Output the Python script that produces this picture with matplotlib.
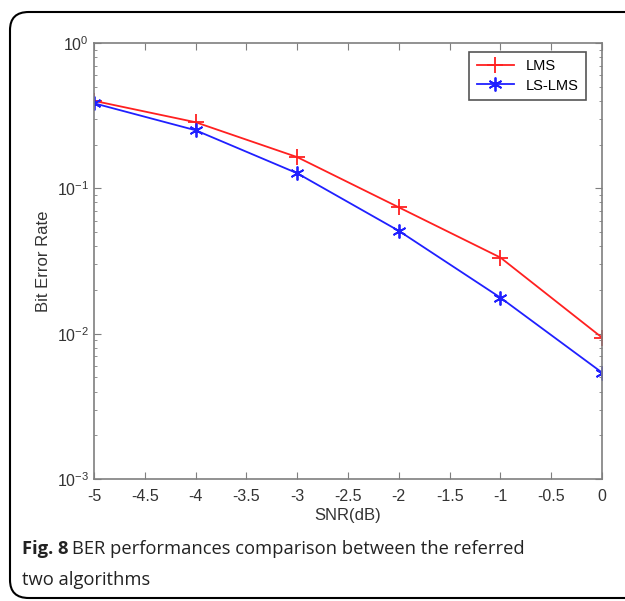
import matplotlib
matplotlib.use("Agg")
import matplotlib.pyplot as plt
from matplotlib.patches import FancyBboxPatch
from matplotlib.ticker import LogLocator, NullFormatter

snr = [-5, -4, -3, -2, -1, 0]
lms = [0.40, 0.285, 0.164, 0.074, 0.0334, 0.0094]
lslms = [0.385, 0.251, 0.127, 0.051, 0.0177, 0.0054]
xticks = [-5, -4.5, -4, -3.5, -3, -2.5, -2, -1.5, -1, -0.5, 0]
xticklabels = ["-5", "-4.5", "-4", "-3.5", "-3", "-2.5", "-2", "-1.5", "-1", "-0.5", "0"]

plt.rcParams['font.family'] = ['Liberation Sans', 'DejaVu Sans']
plt.rcParams['axes.unicode_minus'] = False
plt.rcParams['mathtext.fontset'] = 'custom'
plt.rcParams['mathtext.rm'] = 'Liberation Sans'

fig = plt.figure(figsize=(6.25, 6.01), dpi=100)
ax = fig.add_axes([94/625, 1-479/601, (602-94)/625, (479-43)/601])

ax.plot(snr, lms, color='#ff2020', marker='+', markersize=11, markeredgewidth=1.3, linewidth=1.3, label='LMS')
ax.plot(snr, lslms, color='#2020ff', marker=(6, 2, 0), markersize=10, markeredgewidth=1.3, linewidth=1.3, label='LS-LMS')

ax.set_yscale('log')
ax.set_ylim(1e-3, 1)
ax.set_xlim(-5, 0)
ax.set_xticks(xticks)
ax.set_xticklabels(xticklabels)
ax.yaxis.set_major_locator(LogLocator(base=10, numticks=10))
ax.yaxis.set_minor_locator(LogLocator(base=10, subs=range(2, 10), numticks=20))
ax.yaxis.set_minor_formatter(NullFormatter())

gray = '#7f7f7f'
for s in ax.spines.values():
    s.set_color(gray)
    s.set_linewidth(1.2)
ax.tick_params(which='both', direction='in', top=True, right=True, colors=gray, labelcolor='#333333', labelsize=11.5)
ax.tick_params(which='major', length=5)
ax.tick_params(which='minor', length=2.5)
ax.tick_params(axis='x', pad=7)

ax.set_xlabel('SNR(dB)', fontsize=12, color='#333333', labelpad=3)
ax.set_ylabel('Bit Error Rate', fontsize=12, color='#333333', labelpad=4)

leg = ax.legend(loc='upper right', bbox_to_anchor=(0.969, 0.979), borderaxespad=0, fontsize=10.5,
                fancybox=False, edgecolor='#555555', framealpha=1, handlelength=2.6, borderpad=0.5,
                labelspacing=0.35)
leg.get_frame().set_linewidth(1.2)

frame = FancyBboxPatch((10/625, 1-598/601), 1.2, (598-12)/601, transform=fig.transFigure,
                       boxstyle='round,pad=0,rounding_size=0.03', fill=False,
                       edgecolor='black', linewidth=1.5, clip_on=False)
fig.patches.append(frame)

cap_font = ['Open Sans', 'DejaVu Sans']
t1 = fig.text(22/625, 1-549/601, 'Fig. 8', fontsize=13.2, fontweight='bold', va='center', ha='left',
              color='#222222', family=cap_font)
fig.canvas.draw()
bb = t1.get_window_extent(fig.canvas.get_renderer())
fig.text((bb.x1 + 4) / 625, 1-549/601, 'BER performances comparison between the referred',
         fontsize=13.2, va='center', ha='left', color='#222222', family=cap_font)
fig.text(22/625, 1-580/601, 'two algorithms', fontsize=13.2, va='center', ha='left', color='#222222',
         family=cap_font)

fig.savefig('out.png', dpi=100)
